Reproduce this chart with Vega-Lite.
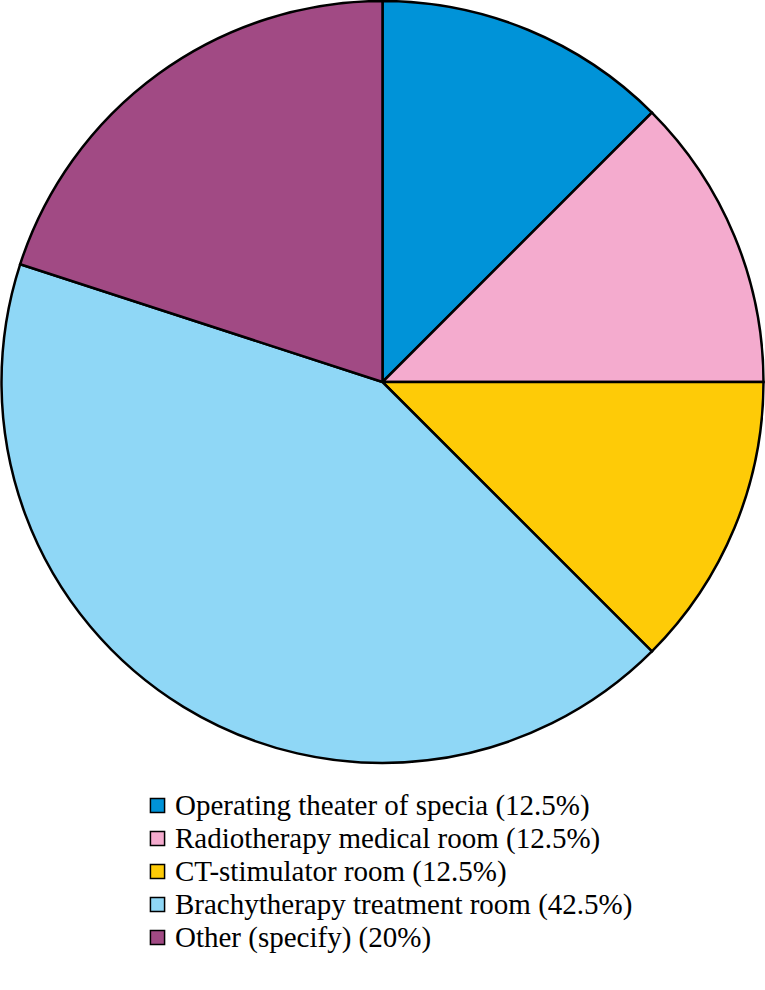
{
  "$schema": "https://vega.github.io/schema/vega-lite/v6.json",
  "width": 765,
  "height": 764,
  "autosize": {"type": "none"},
  "padding": {"left": 0, "top": 0, "right": 0, "bottom": 226},
  "background": "white",
  "data": {"values": [
    {"category": "Operating theater of specia (12.5%)", "value": 12.5, "order": 1},
    {"category": "Radiotherapy medical room (12.5%)", "value": 12.5, "order": 2},
    {"category": "CT-stimulator room (12.5%)", "value": 12.5, "order": 3},
    {"category": "Brachytherapy treatment room (42.5%)", "value": 42.5, "order": 4},
    {"category": "Other (specify) (20%)", "value": 20, "order": 5}
  ]},
  "mark": {"type": "arc", "outerRadius": 381, "stroke": "black", "strokeWidth": 2.5, "strokeJoin": "miter"},
  "encoding": {
    "theta": {"field": "value", "type": "quantitative", "stack": true},
    "order": {"field": "order", "type": "quantitative"},
    "color": {
      "field": "category",
      "type": "nominal",
      "sort": null,
      "scale": {
        "domain": ["Operating theater of specia (12.5%)", "Radiotherapy medical room (12.5%)", "CT-stimulator room (12.5%)", "Brachytherapy treatment room (42.5%)", "Other (specify) (20%)"],
        "range": ["#0093D8", "#F4ABCE", "#FECB07", "#8FD7F6", "#A14A84"]
      },
      "legend": {
        "title": null,
        "orient": "none",
        "legendX": 143,
        "legendY": 791,
        "symbolType": "square",
        "symbolSize": 200,
        "symbolStrokeColor": "black",
        "symbolStrokeWidth": 1.5,
        "symbolOpacity": 1,
        "labelFont": "Liberation Serif",
        "labelFontSize": 29,
        "labelColor": "black",
        "labelLimit": 0,
        "labelOffset": 3,
        "rowPadding": 3
      }
    }
  },
  "config": {"view": {"stroke": null}}
}
